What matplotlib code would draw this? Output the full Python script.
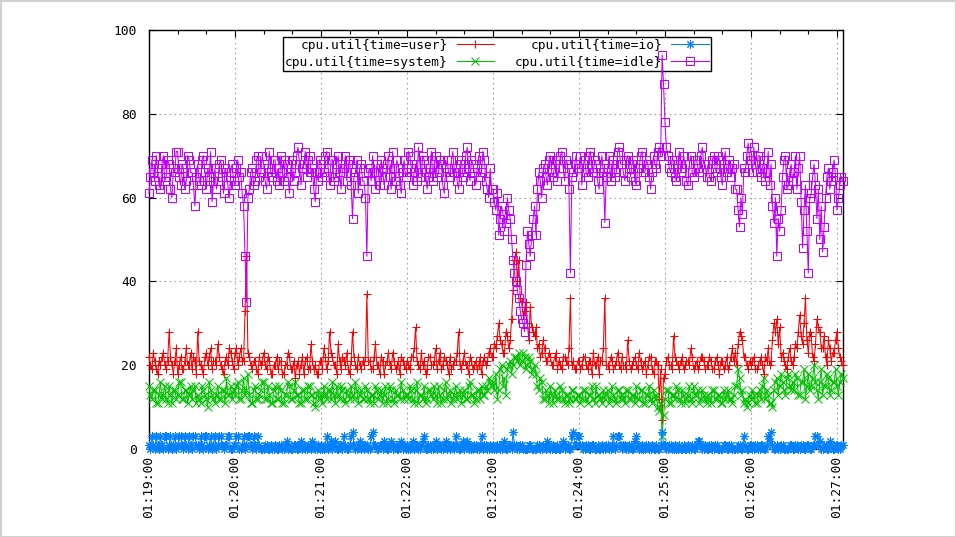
import matplotlib
matplotlib.use("Agg")
import matplotlib.pyplot as plt
import matplotlib.dates as mdates
import pandas as pd

# CPU utilisation samples, one per second starting 01:19:00
start_time = "2015-01-01 01:19:00"
sample_step = "1s"

user = [
    22, 20, 19, 23, 21, 19, 18, 21, 20, 22, 23, 20, 19, 21, 28, 22, 20, 18, 21, 24, 18, 20, 22, 19, 19, 21, 24, 20, 20, 23,
    19, 22, 21, 18, 28, 21, 20, 19, 18, 22, 23, 20, 22, 24, 19, 21, 21, 20, 25, 22, 20, 19, 18, 21, 22, 20, 24, 23, 21, 19,
    23, 24, 20, 22, 24, 21, 21, 33, 46, 23, 22, 20, 19, 21, 21, 19, 18, 22, 20, 21, 23, 20, 19, 22, 21, 18, 18, 20, 20, 22,
    19, 21, 21, 18, 18, 20, 20, 23, 22, 19, 19, 21, 17, 20, 21, 18, 20, 22, 18, 21, 22, 19, 19, 25, 21, 19, 20, 18, 18, 21,
    21, 19, 24, 22, 19, 21, 28, 23, 22, 20, 20, 18, 25, 21, 19, 22, 21, 20, 23, 19, 18, 21, 28, 22, 20, 19, 22, 20, 19, 21,
    20, 22, 37, 21, 21, 19, 19, 22, 25, 20, 20, 18, 22, 21, 18, 20, 21, 23, 20, 19, 23, 21, 19, 20, 21, 18, 22, 21, 20, 19,
    21, 20, 19, 22, 22, 24, 29, 21, 20, 19, 23, 20, 21, 18, 19, 22, 22, 20, 20, 21, 24, 19, 21, 23, 19, 20, 22, 21, 20, 18,
    22, 19, 20, 21, 21, 23, 28, 20, 19, 21, 23, 20, 20, 18, 22, 21, 19, 20, 21, 19, 20, 22, 18, 21, 22, 20, 21, 23, 24, 22,
    22, 25, 24, 27, 30, 26, 25, 23, 23, 28, 27, 24, 26, 31, 38, 45, 47, 40, 45, 36, 35, 32, 33, 35, 30, 26, 34, 29, 28, 27,
    29, 24, 25, 22, 23, 26, 24, 21, 21, 23, 22, 20, 20, 22, 23, 19, 21, 20, 19, 22, 22, 21, 20, 24, 36, 20, 21, 19, 19, 21,
    21, 19, 20, 22, 22, 20, 19, 21, 21, 18, 23, 20, 20, 22, 18, 21, 21, 24, 36, 20, 20, 19, 22, 21, 19, 20, 21, 23, 20, 19,
    22, 20, 20, 19, 26, 21, 19, 20, 21, 22, 20, 19, 23, 21, 19, 20, 21, 18, 20, 22, 22, 19, 18, 21, 21, 20, 12, 19, 7, 17,
    18, 21, 22, 20, 20, 19, 27, 22, 21, 20, 19, 21, 22, 19, 20, 21, 21, 20, 24, 22, 19, 20, 21, 19, 20, 22, 22, 21, 19, 20,
    20, 22, 21, 19, 19, 21, 22, 20, 18, 21, 21, 19, 20, 22, 19, 20, 22, 24, 21, 23, 20, 25, 28, 27, 26, 22, 22, 20, 19, 21,
    20, 21, 22, 19, 19, 20, 21, 22, 20, 18, 22, 21, 24, 20, 21, 26, 30, 28, 31, 25, 29, 22, 23, 21, 20, 19, 22, 24, 21, 20,
    22, 25, 24, 28, 32, 27, 25, 30, 36, 26, 23, 28, 27, 22, 21, 25, 31, 29, 28, 24, 24, 27, 22, 20, 26, 24, 21, 23, 23, 26,
    28, 24, 22, 21, 20,
]

system = [
    15, 13, 12, 14, 14, 11, 11, 13, 16, 12, 13, 15, 12, 11, 15, 13, 11, 14, 14, 12, 13, 16, 16, 12, 12, 14, 14, 11, 13, 15,
    12, 14, 15, 11, 13, 12, 11, 15, 14, 13, 12, 10, 16, 14, 13, 12, 11, 13, 15, 12, 12, 14, 14, 11, 17, 13, 13, 15, 12, 14,
    13, 15, 16, 12, 12, 14, 17, 13, 14, 18, 13, 11, 11, 14, 15, 12, 12, 13, 14, 16, 16, 12, 12, 15, 13, 11, 11, 14, 15, 12,
    12, 15, 14, 11, 11, 13, 13, 16, 15, 12, 12, 14, 16, 13, 13, 11, 11, 14, 14, 12, 12, 15, 15, 13, 13, 11, 10, 13, 14, 12,
    13, 11, 15, 13, 12, 14, 14, 12, 16, 13, 11, 15, 13, 12, 15, 14, 12, 11, 14, 13, 12, 15, 13, 12, 16, 14, 11, 13, 14, 12,
    12, 15, 14, 12, 11, 13, 13, 11, 15, 14, 12, 13, 14, 11, 13, 15, 11, 12, 15, 14, 12, 11, 14, 13, 13, 12, 16, 14, 12, 13,
    13, 12, 15, 14, 12, 11, 14, 16, 11, 13, 13, 12, 15, 11, 12, 14, 14, 13, 12, 15, 13, 11, 15, 13, 11, 12, 14, 16, 12, 13,
    14, 11, 12, 13, 15, 12, 13, 14, 11, 13, 14, 12, 12, 15, 16, 13, 13, 11, 12, 14, 14, 12, 15, 13, 13, 15, 14, 17, 16, 15,
    16, 14, 18, 12, 14, 19, 20, 15, 17, 13, 19, 20, 21, 18, 20, 22, 22, 21, 23, 20, 21, 23, 22, 19, 20, 22, 21, 18, 19, 20,
    18, 15, 14, 17, 16, 12, 12, 14, 13, 11, 15, 13, 11, 14, 13, 12, 12, 15, 14, 12, 11, 13, 13, 11, 12, 14, 14, 12, 12, 13,
    13, 11, 12, 14, 14, 12, 11, 13, 13, 15, 12, 11, 15, 13, 13, 12, 11, 14, 12, 13, 14, 11, 12, 15, 13, 12, 11, 14, 14, 12,
    13, 12, 11, 14, 14, 12, 12, 13, 13, 11, 15, 12, 12, 14, 14, 11, 11, 13, 13, 15, 12, 11, 14, 12, 13, 10, 9, 11, 3, 8,
    12, 14, 14, 11, 11, 13, 13, 12, 15, 14, 12, 11, 14, 13, 11, 12, 13, 15, 12, 11, 15, 13, 13, 14, 11, 12, 14, 13, 12, 11,
    13, 12, 11, 14, 14, 12, 12, 13, 13, 11, 11, 14, 12, 13, 14, 12, 12, 11, 13, 15, 15, 19, 17, 13, 14, 11, 12, 10, 11, 13,
    12, 14, 13, 11, 11, 13, 14, 12, 15, 17, 12, 14, 13, 11, 11, 10, 14, 16, 17, 13, 15, 18, 16, 14, 13, 17, 18, 15, 14, 16,
    14, 18, 17, 13, 13, 16, 16, 19, 12, 15, 18, 14, 15, 17, 20, 16, 14, 12, 16, 19, 13, 15, 15, 18, 17, 13, 14, 16, 16, 19,
    15, 13, 16, 18, 17,
]

io = [
    1, 0, 3, 1, 0, 3, 1, 0, 3, 1, 0, 3, 3, 0, 1, 3, 0, 1, 3, 0, 1, 3, 3, 1, 0, 3, 1, 0, 3, 1,
    0, 3, 3, 1, 1, 0, 3, 1, 0, 3, 3, 0, 1, 3, 0, 1, 3, 0, 1, 3, 3, 1, 0, 1, 1, 3, 3, 0, 0, 1,
    1, 3, 3, 0, 0, 1, 3, 0, 1, 3, 3, 1, 0, 3, 1, 0, 3, 1, 0, 0, 0, 1, 1, 0, 0, 1, 0, 0, 1, 0,
    0, 1, 1, 0, 0, 1, 2, 0, 1, 0, 0, 1, 1, 0, 0, 1, 2, 0, 1, 0, 0, 1, 1, 0, 2, 1, 0, 0, 1, 0,
    1, 0, 0, 1, 3, 0, 1, 2, 0, 1, 2, 0, 0, 1, 1, 0, 3, 1, 0, 0, 1, 3, 4, 1, 0, 0, 1, 2, 0, 1,
    0, 1, 1, 0, 0, 3, 4, 1, 1, 0, 0, 1, 1, 0, 2, 1, 0, 0, 1, 2, 0, 1, 1, 0, 0, 1, 2, 0, 1, 0,
    1, 0, 0, 1, 2, 0, 1, 1, 0, 0, 1, 2, 3, 0, 0, 1, 1, 0, 0, 1, 2, 0, 1, 1, 0, 0, 1, 2, 0, 1,
    0, 1, 1, 0, 3, 1, 0, 0, 1, 2, 0, 1, 2, 0, 1, 0, 0, 1, 1, 0, 0, 1, 3, 0, 1, 1, 0, 0, 1, 0,
    1, 0, 0, 1, 1, 0, 0, 1, 2, 0, 0, 1, 1, 0, 4, 1, 1, 0, 0, 1, 1, 0, 0, 0, 0, 1, 1, 0, 0, 0,
    0, 1, 1, 0, 0, 1, 1, 0, 2, 1, 0, 0, 1, 0, 0, 1, 0, 0, 1, 2, 0, 1, 1, 0, 0, 3, 4, 1, 1, 3,
    3, 1, 1, 0, 0, 1, 1, 0, 0, 1, 1, 0, 0, 1, 0, 0, 1, 0, 0, 1, 1, 0, 0, 1, 3, 0, 1, 3, 3, 1,
    0, 1, 1, 0, 0, 1, 1, 0, 0, 2, 3, 1, 0, 0, 1, 0, 0, 1, 1, 0, 0, 1, 0, 0, 1, 0, 0, 1, 4, 1,
    1, 0, 0, 1, 1, 0, 0, 1, 0, 0, 1, 0, 0, 1, 0, 0, 1, 0, 0, 1, 0, 0, 1, 2, 2, 1, 0, 0, 1, 0,
    0, 1, 1, 0, 0, 1, 1, 0, 0, 0, 0, 1, 1, 0, 0, 1, 1, 0, 0, 0, 0, 1, 1, 0, 0, 3, 1, 0, 0, 1,
    1, 0, 0, 1, 1, 0, 0, 1, 1, 0, 0, 1, 3, 2, 4, 1, 0, 0, 1, 0, 0, 1, 1, 0, 0, 0, 0, 1, 1, 0,
    0, 1, 1, 0, 0, 1, 1, 0, 0, 1, 1, 0, 0, 1, 1, 3, 3, 1, 2, 0, 0, 1, 1, 0, 0, 2, 1, 0, 0, 1,
    1, 0, 0, 1, 1,
]

idle = [
    61, 65, 69, 66, 64, 70, 67, 63, 62, 68, 70, 64, 65, 69, 68, 62, 60, 67, 66, 71, 71, 65, 63, 68, 67, 62, 64, 70, 69, 66,
    66, 63, 58, 65, 68, 64, 63, 69, 70, 66, 62, 67, 65, 71, 59, 64, 67, 62, 64, 68, 69, 65, 61, 67, 66, 63, 60, 66, 68, 64,
    63, 67, 69, 65, 66, 61, 58, 46, 35, 60, 62, 66, 67, 63, 64, 69, 70, 65, 66, 70, 68, 64, 62, 67, 71, 66, 65, 69, 69, 64,
    67, 63, 70, 66, 64, 69, 68, 65, 61, 67, 69, 64, 66, 70, 72, 68, 63, 67, 68, 71, 65, 69, 70, 66, 67, 62, 59, 66, 64, 69,
    68, 65, 66, 70, 71, 67, 63, 69, 69, 64, 65, 68, 70, 66, 62, 67, 67, 70, 64, 68, 69, 63, 55, 65, 66, 69, 61, 67, 68, 64,
    64, 60, 46, 66, 67, 64, 70, 66, 62, 68, 66, 63, 69, 67, 63, 65, 68, 70, 65, 62, 71, 67, 64, 69, 67, 63, 61, 66, 69, 65,
    66, 71, 70, 67, 63, 66, 68, 64, 72, 68, 65, 70, 69, 66, 62, 65, 67, 71, 64, 68, 70, 65, 66, 69, 68, 63, 61, 67, 69, 66,
    65, 69, 71, 66, 67, 64, 62, 68, 69, 65, 66, 70, 72, 67, 64, 69, 68, 66, 63, 67, 70, 65, 66, 71, 69, 64, 62, 60, 67, 62,
    62, 59, 57, 61, 51, 55, 58, 56, 52, 54, 60, 57, 55, 50, 45, 42, 40, 38, 36, 33, 31, 30, 28, 44, 52, 49, 46, 51, 55, 58,
    51, 62, 66, 64, 60, 67, 68, 65, 63, 69, 70, 66, 65, 68, 69, 64, 67, 70, 71, 67, 64, 69, 68, 62, 42, 65, 66, 68, 70, 67,
    67, 70, 63, 68, 69, 66, 65, 70, 71, 67, 66, 69, 68, 64, 62, 67, 70, 66, 54, 65, 67, 70, 64, 68, 69, 65, 66, 71, 72, 68,
    68, 66, 64, 69, 70, 67, 65, 68, 69, 64, 63, 67, 67, 70, 71, 66, 66, 69, 68, 65, 62, 66, 70, 68, 67, 71, 72, 70, 94, 87,
    78, 72, 70, 67, 66, 69, 69, 65, 64, 68, 71, 66, 67, 70, 68, 64, 63, 68, 70, 66, 65, 69, 69, 67, 66, 70, 72, 68, 68, 65,
    68, 65, 64, 69, 70, 67, 66, 70, 69, 65, 63, 68, 71, 66, 67, 69, 65, 67, 68, 62, 62, 57, 53, 60, 56, 67, 66, 70, 73, 69,
    69, 66, 72, 68, 66, 70, 70, 65, 67, 69, 64, 66, 71, 63, 68, 58, 54, 60, 46, 55, 52, 57, 65, 69, 70, 62, 63, 66, 68, 64,
    66, 70, 62, 67, 70, 59, 48, 57, 63, 52, 42, 60, 61, 65, 68, 63, 55, 62, 50, 58, 47, 53, 60, 65, 67, 62, 64, 66, 69, 65,
    57, 60, 63, 65, 64,
]

series = [
    ("cpu.util{time=user}", user, "#ff0000", "+"),
    ("cpu.util{time=system}", system, "#00c000", "x"),
    ("cpu.util{time=io}", io, "#0080ff", (8, 2, 0)),
    ("cpu.util{time=idle}", idle, "#c000ff", "s"),
]

times = pd.date_range(start=start_time, periods=len(idle), freq=sample_step)

mono = "DejaVu Sans Mono"
plt.rcParams["font.family"] = mono
plt.rcParams["font.size"] = 9.3

fig = plt.figure(figsize=(9.56, 5.37), dpi=100)
fig.patch.set_facecolor("white")
fig.patch.set_edgecolor("#d0d0d0")
fig.patch.set_linewidth(1.0)
ax = fig.add_axes([149 / 956, 1 - 449 / 537, 694 / 956, 419 / 537])

handles = []
for label, values, color, marker in series:
    (h,) = ax.plot(
        times, values, color=color, linewidth=0.75,
        marker=marker, markersize=6.0, markeredgewidth=0.75,
        markerfacecolor="none", markeredgecolor=color,
        label=label, clip_on=False, zorder=3,
    )
    handles.append(h)

ax.set_ylim(0, 100)
ax.set_yticks([0, 20, 40, 60, 80, 100])
ax.set_xlim(pd.Timestamp("2015-01-01 01:19:00"), pd.Timestamp("2015-01-01 01:27:04.2"))
ax.xaxis.set_major_locator(mdates.MinuteLocator())
ax.xaxis.set_minor_locator(mdates.SecondLocator(bysecond=[20, 40]))
ax.xaxis.set_major_formatter(mdates.DateFormatter("%H:%M:%S"))
for lbl in ax.get_xticklabels():
    lbl.set_rotation(90)

ax.grid(True, which="major", color="#a0a0a0", linestyle=(0, (1.5, 3)), linewidth=0.8)
ax.tick_params(which="both", direction="in", top=True, right=True, labelsize=9.3)
ax.tick_params(which="major", length=5, width=0.8)
ax.tick_params(which="minor", length=3, width=0.8)
ax.tick_params(axis="x", pad=5)
ax.tick_params(axis="y", pad=9)
for s in ax.spines.values():
    s.set_linewidth(1.0)
    s.set_color("black")
ax.set_axisbelow(True)

leg = ax.legend(
    handles=handles, ncol=2, markerfirst=False, numpoints=1,
    loc="upper left", bbox_to_anchor=((283 - 149) / 694, (449 - 37) / 419),
    borderaxespad=0, borderpad=0.15, labelspacing=0.3,
    handlelength=2.9, handletextpad=0.7, columnspacing=1.6,
    fancybox=False, framealpha=1, edgecolor="black",
    prop={"family": mono, "size": 9.3},
)
leg.get_frame().set_linewidth(1.0)
leg.set_zorder(2)

fig.savefig("out.png", dpi=100, facecolor=fig.get_facecolor(), edgecolor=fig.get_edgecolor())
